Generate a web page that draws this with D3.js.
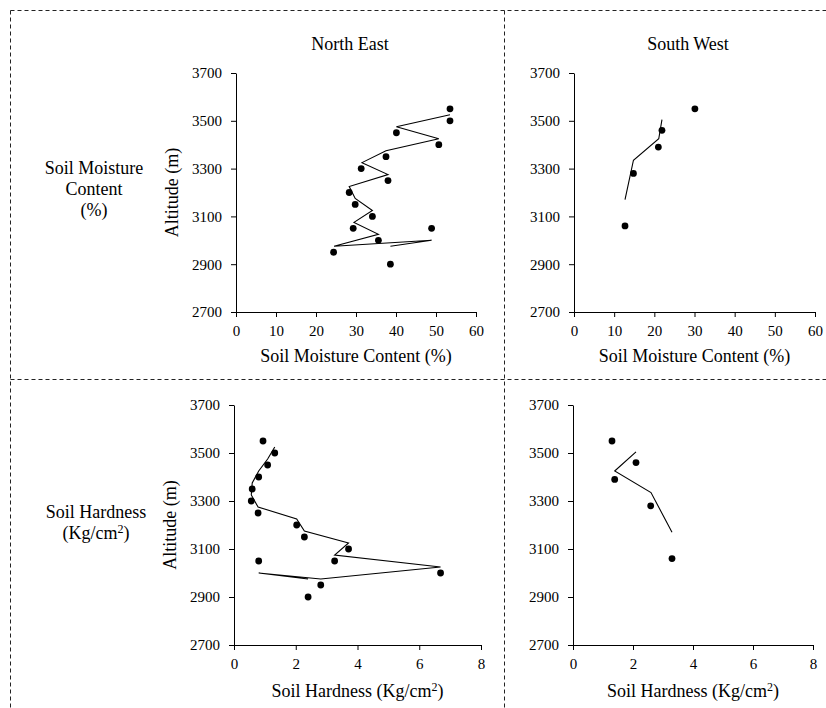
<!DOCTYPE html>
<html lang="en">
<head>
<meta charset="utf-8">
<title>Soil moisture and hardness by altitude</title>
<script src="https://cdn.jsdelivr.net/npm/d3@7"></script>
<style>
  body { margin: 0; background: #fff; }
  svg text { font-family: "Liberation Serif", "Times New Roman", serif; fill: #000; }
</style>
</head>
<body>
<div id="chart"></div>
<script>

// ---- data ----
var altNE = [3550, 3500, 3450, 3400, 3350, 3300, 3250, 3200, 3150, 3100, 3050, 3000, 2950, 3050, 2900];
var moistNE = [53.5, 53.5, 40.1, 50.7, 37.5, 31.3, 38.0, 28.3, 29.8, 34.1, 29.3, 35.6, 24.4, 48.9, 38.6];
var hardNE = [0.94, 1.32, 1.09, 0.80, 0.59, 0.56, 0.78, 2.03, 2.28, 3.71, 3.26, 6.69, 2.81, 0.80, 2.40];

var altSW = [3550, 3460, 3390, 3280, 3060];
var moistSW = [30.1, 21.9, 21.0, 14.8, 12.7];
var hardSW = [1.30, 2.10, 1.39, 2.59, 3.30];

// trend lines (moving average) as drawn
var trendAltNE = [3525, 3475, 3425, 3375, 3325, 3275, 3225, 3175, 3125, 3075, 3025, 2975, 3000, 2975];
var trendMoistNE = [53.5, 40.1, 50.7, 37.5, 31.5, 38.0, 28.3, 29.8, 34.1, 29.5, 35.6, 24.5, 48.9, 38.6];
var trendHardNE = [1.32, 1.09, 0.80, 0.59, 0.56, 0.78, 2.03, 2.28, 3.71, 3.26, 6.69, 2.81, 0.80, 2.40];

var trendAltSW = [3505, 3425, 3335, 3170];
var trendMoistSW = [21.9, 21.1, 14.8, 12.7];
var trendHardSW = [2.10, 1.39, 2.60, 3.30];

var altTicks = [2700, 2900, 3100, 3300, 3500, 3700];
var moistTicks = [0, 10, 20, 30, 40, 50, 60];
var hardTicks = [0, 2, 4, 6, 8];

var W = 826, H = 708;
var serif = "'Liberation Serif', 'Times New Roman', serif";

var svg = d3.select("#chart")
    .append("svg")
    .attr("width", W)
    .attr("height", H);

// dashed frame
var dash = "4,3";
function dline(x1, y1, x2, y2) {
  svg.append("line")
     .attr("x1", x1).attr("y1", y1).attr("x2", x2).attr("y2", y2)
     .attr("stroke", "#222")
     .attr("stroke-width", 1)
     .attr("stroke-dasharray", dash);
}
dline(10.5, 10.5, W, 10.5);
dline(10.5, 10.5, 10.5, H);
dline(504.5, 10.5, 504.5, H);
dline(10.5, 379.5, W, 379.5);

// one panel
function drawPanel(opt) {
  var x = d3.scaleLinear().domain(opt.xDomain).range([opt.x0, opt.x1]);
  var y = d3.scaleLinear().domain([2700, 3700]).range([opt.y0, opt.y1]);

  var g = svg.append("g");

  var yAxis = g.append("g")
     .attr("transform", "translate(" + opt.x0 + ",0)")
     .call(d3.axisLeft(y).tickValues(altTicks).tickFormat(d3.format("d"))
             .tickSize(5).tickSizeOuter(0).tickPadding(9));
  var xAxis = g.append("g")
     .attr("transform", "translate(0," + opt.y0 + ")")
     .call(d3.axisBottom(x).tickValues(opt.xTicks).tickFormat(d3.format("d"))
             .tickSize(5).tickSizeOuter(0).tickPadding(8));

  [xAxis, yAxis].forEach(function(a) {
    a.attr("font-family", serif).attr("font-size", 15);
    a.selectAll("text").attr("fill", "#000");
    a.select(".domain").attr("stroke", "#000");
    a.selectAll(".tick line").attr("stroke", "#000");
  });

  // trend line
  var pts = opt.trendX.map(function(v, i) { return [v, opt.trendY[i]]; });
  g.append("path")
   .datum(pts)
   .attr("fill", "none")
   .attr("stroke", "#000")
   .attr("stroke-width", 1.1)
   .attr("d", d3.line().x(function(d) { return x(d[0]); }).y(function(d) { return y(d[1]); }));

  // points
  g.selectAll("circle")
   .data(opt.xs)
   .enter()
   .append("circle")
   .attr("cx", function(d) { return x(d); })
   .attr("cy", function(d, i) { return y(opt.ys[i]); })
   .attr("r", 3.4)
   .attr("fill", "#000");

  // axis titles
  g.append("text")
   .attr("x", (opt.x0 + opt.x1) / 2)
   .attr("y", opt.titleY)
   .attr("text-anchor", "middle")
   .style("font-size", "18px")
   .html(opt.xTitle);

  if (opt.yTitle) {
    g.append("text")
     .attr("transform", "translate(" + (opt.x0 - 58) + "," + ((opt.y0 + opt.y1) / 2) + ") rotate(-90)")
     .attr("text-anchor", "middle")
     .style("font-size", "18px")
     .text(opt.yTitle);
  }
}

var hardTitle = 'Soil Hardness (Kg/cm<tspan dy="-6" font-size="12px">2</tspan><tspan dy="6">)</tspan>';

drawPanel({ x0: 236, x1: 476, y0: 312, y1: 73, xDomain: [0, 60], xTicks: moistTicks,
            xs: moistNE, ys: altNE, trendX: trendMoistNE, trendY: trendAltNE,
            xTitle: "Soil Moisture Content (%)", titleY: 362, yTitle: "Altitude (m)" });
drawPanel({ x0: 574, x1: 815, y0: 312, y1: 73, xDomain: [0, 60], xTicks: moistTicks,
            xs: moistSW, ys: altSW, trendX: trendMoistSW, trendY: trendAltSW,
            xTitle: "Soil Moisture Content (%)", titleY: 362 });
drawPanel({ x0: 234, x1: 481, y0: 645, y1: 405, xDomain: [0, 8], xTicks: hardTicks,
            xs: hardNE, ys: altNE, trendX: trendHardNE, trendY: trendAltNE,
            xTitle: hardTitle, titleY: 697, yTitle: "Altitude (m)" });
drawPanel({ x0: 573, x1: 813, y0: 645, y1: 405, xDomain: [0, 8], xTicks: hardTicks,
            xs: hardSW, ys: altSW, trendX: trendHardSW, trendY: trendAltSW,
            xTitle: hardTitle, titleY: 697 });

// column headers
svg.append("text").attr("x", 350).attr("y", 50).attr("text-anchor", "middle")
   .style("font-size", "18px").text("North East");
svg.append("text").attr("x", 688).attr("y", 50).attr("text-anchor", "middle")
   .style("font-size", "18px").text("South West");

// row labels
var rowMoist = ["Soil Moisture", "Content", "(%)"];
rowMoist.forEach(function(t, i) {
  svg.append("text").attr("x", 94).attr("y", 174 + i * 21).attr("text-anchor", "middle")
     .style("font-size", "18px").text(t);
});
svg.append("text").attr("x", 96).attr("y", 518).attr("text-anchor", "middle")
   .style("font-size", "18px").text("Soil Hardness");
svg.append("text").attr("x", 96).attr("y", 539).attr("text-anchor", "middle")
   .style("font-size", "18px")
   .html('(Kg/cm<tspan dy="-6" font-size="12px">2</tspan><tspan dy="6">)</tspan>');

</script>
</body>
</html>
